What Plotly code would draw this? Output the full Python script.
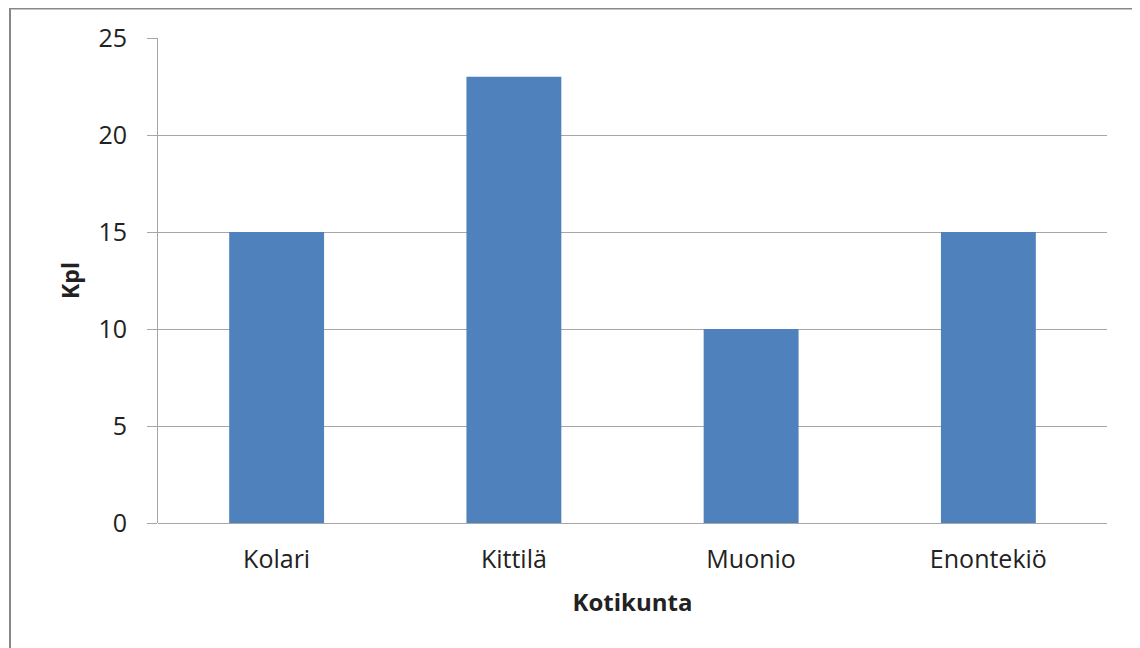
import plotly.graph_objects as go

# Data
kunnat = ['Kolari', 'Kittilä', 'Muonio', 'Enontekiö']
kpl = [15, 23, 10, 15]
y_ticks = [0, 5, 10, 15, 20, 25]

# page body adds an 8px offset, so the figure is a bit smaller than the window
OFF = 8
W, H = 1140 - OFF, 648 - OFF
left, right, top, bottom = 158 - OFF, 33, 38 - OFF, 125
pw = W - left - right
ph = H - top - bottom


def px_x(p):
    # page pixel -> paper coordinate
    return (p - OFF - left) / pw


def px_y(p):
    return (H - bottom - (p - OFF)) / ph


fig = go.Figure()
fig.add_trace(go.Bar(x=kunnat, y=kpl, marker=dict(color='#4F81BD', line=dict(width=0)),
                     hoverinfo='x+y'))

font = dict(family='Open Sans, DejaVu Sans, sans-serif', size=25, color='#222222')
grid = '#A6A6A6'

fig.update_layout(
    width=W, height=H,
    margin=dict(l=left, r=right, t=top, b=bottom),
    paper_bgcolor='white', plot_bgcolor='white',
    bargap=0.6,
    showlegend=False,
    font=font,
    xaxis=dict(title=dict(text='<b>Kotikunta</b>', font=dict(size=24), standoff=20),
               showline=False, ticks='', showgrid=False, tickfont=font,
               ticklabelstandoff=19),
    yaxis=dict(title=dict(text='<b>Kpl</b>', font=dict(size=23), standoff=12),
               range=[0, 25], tickvals=y_ticks, showgrid=True, gridcolor=grid, gridwidth=1,
               showline=True, linecolor=grid, linewidth=1,
               ticks='outside', ticklen=10, tickcolor=grid,
               zeroline=True, zerolinecolor=grid, zerolinewidth=1,
               ticklabelstandoff=15, tickfont=font),
    shapes=[
        # outer chart frame
        dict(type='line', xref='paper', yref='paper', x0=px_x(10), x1=px_x(10), y0=px_y(8), y1=px_y(660),
             line=dict(color='#888888', width=2)),
        dict(type='line', xref='paper', yref='paper', x0=px_x(9), x1=px_x(1140), y0=px_y(8.5), y1=px_y(8.5),
             line=dict(color='#888888', width=2)),
        dict(type='line', xref='paper', yref='paper', x0=px_x(1139), x1=px_x(1139), y0=px_y(8), y1=px_y(660),
             line=dict(color='#D0D0D0', width=1)),
    ],
)

fig.write_html('out.html')
